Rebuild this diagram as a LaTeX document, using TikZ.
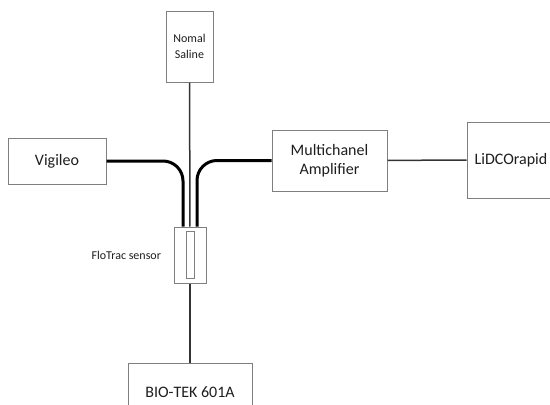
\documentclass[tikz,border=0pt]{standalone}
\usepackage{fontspec}
\setmainfont{Carlito}
\usepackage{tikz}
\usepackage{xcolor}
\usetikzlibrary{positioning}
\definecolor{FontColor}{HTML}{1E1E1E}
\definecolor{BorderGray}{HTML}{7F7F7F}
\definecolor{WireGray}{HTML}{333333}
\newcommand\nodesal{Nomal\\Saline}
\newcommand\nodevig{Vigileo}
\newcommand\nodeamp{Multichanel\\Amplifier}
\newcommand\nodelid{LiDCOrapid}
\newcommand\nodeflo{FloTrac sensor}
\newcommand\nodebio{BIO-TEK 601A}
\tikzstyle{mynodestyle} = [rectangle, draw=BorderGray, line width=1pt, fill=white, text=FontColor, align=center, inner sep=0pt]
\tikzstyle{bigbox} = [mynodestyle, font=\fontsize{16}{19}\selectfont]
\tikzstyle{smallbox} = [mynodestyle, font=\fontsize{12}{16}\selectfont]
\tikzstyle{tube} = [line width=3pt, black]
\tikzstyle{wire} = [line width=1.5pt, WireGray]

\begin{document}
\begin{tikzpicture}[x=1pt, y=-1pt]
\useasboundingbox (0,0) rectangle (550,405);
\node[smallbox, minimum width=47pt, minimum height=71pt] (sal) at (189.5, 46.5) {\nodesal};
\node[bigbox, minimum width=98pt, minimum height=46pt] (vig) at (57, 161) {\nodevig};
\node[bigbox, minimum width=115pt, minimum height=61pt] (amp) at (329.5, 160.5) {\nodeamp};
\node[bigbox, minimum width=88pt, minimum height=76pt] (lid) at (511, 160) {\nodelid};
\node[mynodestyle, minimum width=32pt, minimum height=56pt] (sensor) at (190, 255) {};
\node[mynodestyle, minimum width=8pt, minimum height=47pt] (core) at (190, 254.5) {};
\node[mynodestyle, draw=none, fill=none, font=\fontsize{12}{16}\selectfont, left=12pt of sensor] (flo) {\nodeflo};
\node[bigbox, minimum width=124pt, minimum height=58pt] (bio) at (190, 392) {\nodebio};
\draw [wire] (sal) -- (sensor);
\draw [wire] (sensor) -- (bio);
\draw [wire] (amp) -- (lid);
\draw [tube, rounded corners=20pt] (vig.east) -| ([xshift=-7pt]sensor.north);
\draw [tube, rounded corners=20pt] (amp.west) -| ([xshift=7pt]sensor.north);
\end{tikzpicture}
\end{document}
